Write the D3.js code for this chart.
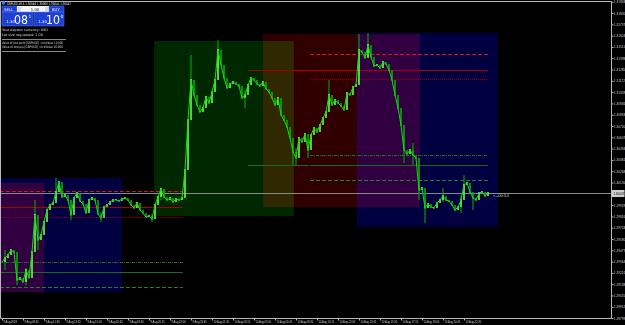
<!DOCTYPE html>
<html><head><meta charset="utf-8">
<script src="https://cdn.jsdelivr.net/npm/d3@7"></script>
<style>html,body{margin:0;padding:0;background:#000;overflow:hidden}svg{display:block}</style>
</head><body><svg id="c" width="625" height="325"></svg>
<script>
// ---------- DATA ----------
const symbol = "GBPUSD,M15";
const quoteLine = ["1.30046", "1.30060", "1.30041", "1.30047"];
const closes = [
1.2936,1.2940,1.2943,1.2948,1.2946,1.2918,1.2920,1.2916,1.2928,1.2920,
1.2946,1.2983,1.2958,1.2963,1.2976,1.2988,1.2993,1.2995,1.3006,1.3016,
1.3001,1.3003,1.2998,1.2983,1.3000,1.3005,1.2997,1.2994,1.2985,1.2998,
1.3000,1.2998,1.2984,1.2980,1.2991,1.2993,1.2996,1.2998,1.2998,1.2997,
1.2999,1.3000,1.2998,1.2993,1.2990,1.2995,1.2988,1.2985,1.2981,1.2982,
1.2979,1.2993,1.3001,1.3009,1.3001,1.2998,1.3000,1.2996,1.2999,1.2998,
1.3000,1.3028,1.3078,1.3118,1.3103,1.3093,1.3086,1.3090,1.3101,1.3095,
1.3106,1.3118,1.3148,1.3133,1.3120,1.3110,1.3114,1.3116,1.3114,1.3112,
1.3100,1.3103,1.3113,1.3120,1.3118,1.3114,1.3112,1.3116,1.3109,1.3106,
1.3100,1.3093,1.3100,1.3083,1.3078,1.3071,1.3060,1.3046,1.3040,1.3060,
1.3056,1.3064,1.3048,1.3063,1.3070,1.3066,1.3073,1.3080,1.3086,1.3103,
1.3093,1.3098,1.3095,1.3092,1.3088,1.3105,1.3103,1.3111,1.3113,1.3148,
1.3146,1.3140,1.3153,1.3141,1.3132,1.3133,1.3130,1.3136,1.3134,1.3128,
1.3118,1.3103,1.3090,1.3073,1.3048,1.3044,1.3048,1.3043,1.3040,1.3008,
1.3010,1.2990,1.2994,1.2991,1.2990,1.2995,1.2998,1.3002,1.2998,1.2997,
1.2993,1.2988,1.2991,1.2998,1.3013,1.3015,1.3006,1.3000,1.2998,1.3005,
1.3006,1.3002,1.3005
];
// bars with visible wicks: index, high, low
const wickIndex = [1,5,8,11,12,18,23,33,50,53,63,72,81,97,98,102,109,119,122,134,137,139,141,147,153,154,157];
const wickHigh  = [1.2948,1.2922,1.2930,1.2998,1.2965,1.3020,1.2998,1.2986,1.2984,1.3010,1.3143,1.3158,1.3108,1.3055,1.3050,1.3058,1.3118,1.3164,1.3165,1.3060,1.3055,1.3015,1.2998,1.3010,1.3003,1.3023,1.3004];
const wickLow   = [1.2928,1.2913,1.2913,1.2975,1.2948,1.3000,1.2978,1.2976,1.2976,1.2998,1.3100,1.3130,1.3090,1.3033,1.3033,1.3040,1.3095,1.3140,1.3145,1.3035,1.3033,1.2998,1.2975,1.2996,1.2985,1.3008,1.2988];
const currentPrice = 1.30047;
const countdown = "<--00:54";

// sessions (bar index start/end, price high/low, kind)
const sessionKind  = ["ny", "asia", "london", "ny", "asia"];
const sessionStart = [-12, -0.7, 50.7, 87, 118.3];
const sessionEnd   = [14, 40, 97.3, 139.3, 165.3];
const sessionHigh  = [1.3015, 1.3020, 1.3157, 1.3164, 1.3165];
const sessionLow   = [1.2906, 1.2906, 1.2982, 1.2991, 1.2971];

// level lines
const levelStart = [-0.7,-0.7,-0.7,-0.7,-0.7,-0.7, 82,82, 102.7,102.7,102.7,102.7,102.7,102.7];
const levelEnd   = [60.3,60.3,60.3,60.3,60.3,60.3, 102.3,102.3, 162,162,162,162,162,162];
const levelPrice = [1.30065,1.2991,1.29815,1.2936,1.2926,1.2911, 1.3128,1.30335, 1.3144,1.31285,1.3119,1.3043,1.3033,1.3018];
const levelKind  = ["hiDash","hiSolid","hiDot","loDot","loSolid","loDash", "hiSolid","loSolid", "hiDash","hiSolid","hiDot","loDot","loSolid","loDash"];

// axes
const priceTicks = [1.31963,1.31850,1.31737,1.31624,1.31511,1.31398,1.31285,1.31172,1.31059,1.30946,
1.30833,1.30720,1.30607,1.30494,1.30381,1.30268,1.30155,1.30042,1.29929,1.29816,1.29703,1.29590,
1.29477,1.29364,1.29251,1.29138,1.29025,1.28912,1.28799];
const timeLabels = ["9 Aug 2018","9 Aug 09:45","9 Aug 11:30","9 Aug 13:15","9 Aug 15:00","9 Aug 16:45",
"9 Aug 18:30","9 Aug 20:15","9 Aug 22:00","9 Aug 23:45","10 Aug 01:30","10 Aug 03:15","10 Aug 05:00",
"10 Aug 06:45","10 Aug 08:30","10 Aug 10:15","10 Aug 12:00","10 Aug 13:45","10 Aug 15:30","10 Aug 17:15",
"10 Aug 19:00","10 Aug 20:45","10 Aug 22:30"];
const timeLabelStep = 7;

const infoLines = ["Your deposit currency: USD", "Lot size requested: 1.00"];
const valueLines = ["Value of one point [GBPUSD] : tickValue 10.000", "Value of one pip   [GBPUSD] : tickValue 10.000"];
const panel = {sell:"SELL", buy:"BUY", lots:"1.00", bidBig:"08", bidSup:"1", askBig:"10", askSup:"0", prefix:"1.30"};

// ---------- STYLES ----------
const sessionColor = {ny:"#300000", asia:"#000040", london:"#002800"};
const levelStyle = {
  hiDash:{c:"#d01818", d:"4,2"}, hiSolid:{c:"#a80000", d:null}, hiDot:{c:"#a00000", d:"1,1"},
  loDot:{c:"#1f7a1f", d:"3,1,1,1"}, loSolid:{c:"#1a6a1a", d:null}, loDash:{c:"#2a802a", d:"4,2"}
};
const W = 625, H = 325, RX = 611, TY = 1, BY = 318;
const f = "DejaVu Sans, sans-serif";
const fa = "Liberation Sans, Arial, sans-serif";

const svg = d3.select("#c");
svg.append("rect").attr("width", W).attr("height", H).attr("fill", "#000");

const x = d3.scaleLinear().domain([0, 203]).range([2, RX]);
const y = d3.scaleLinear().domain([1.2880, 1.3197]).range([BY, TY]);

const plot = svg.append("g");
plot.append("defs").append("clipPath").attr("id","clip").append("rect")
  .attr("x",0).attr("y",TY).attr("width",RX).attr("height",BY-TY);
const inner = plot.append("g").attr("clip-path","url(#clip)");

// sessions
inner.append("g").selectAll("rect").data(sessionKind).join("rect")
  .attr("x", (d,i)=>x(sessionStart[i]))
  .attr("width", (d,i)=>x(sessionEnd[i])-x(sessionStart[i]))
  .attr("y", (d,i)=>y(sessionHigh[i]))
  .attr("height", (d,i)=>y(sessionLow[i])-y(sessionHigh[i]))
  .attr("fill", d=>sessionColor[d])
  .style("mix-blend-mode","screen");

// levels
inner.append("g").selectAll("line").data(levelKind).join("line")
  .attr("x1",(d,i)=>x(levelStart[i])).attr("x2",(d,i)=>x(levelEnd[i]))
  .attr("y1",(d,i)=>Math.round(y(levelPrice[i]))+0.5).attr("y2",(d,i)=>Math.round(y(levelPrice[i]))+0.5)
  .attr("stroke",d=>levelStyle[d].c).attr("stroke-width",1)
  .attr("stroke-dasharray",d=>levelStyle[d].d);

// current price line
const cy = Math.round(y(currentPrice))+0.5;
inner.append("line").attr("x1",0).attr("x2",RX).attr("y1",cy).attr("y2",cy)
  .attr("stroke","#8a8a8a").attr("stroke-width",1);

// wicks
inner.append("g").selectAll("line").data(wickIndex).join("line")
  .attr("x1",d=>x(d)).attr("x2",d=>x(d))
  .attr("y1",(d,i)=>y(wickHigh[i])).attr("y2",(d,i)=>y(wickLow[i]))
  .attr("stroke","#00a800").attr("stroke-width",1.1);

// price bars
const bars = inner.append("g");
closes.forEach((c,i)=>{
  if(i===0) return;
  const p = closes[i-1];
  bars.append("line").attr("x1",x(i)).attr("x2",x(i))
    .attr("y1",y(p)).attr("y2",y(c)+(c>=p?-1:1))
    .attr("stroke", c>=p ? "#66ff44" : "#00b000").attr("stroke-width",1.6);
});
inner.append("path").datum(closes)
  .attr("d", d3.line().x((d,i)=>x(i)).y(d=>y(d)))
  .attr("fill","none").attr("stroke","#18d818").attr("stroke-width",1);

// countdown
svg.append("text").attr("x", x(closes.length-1)+5).attr("y", cy+3)
  .attr("font-family",fa).attr("font-size",4.2).attr("fill","#c8c8c8")
  .text(countdown);

// frame
svg.append("path").attr("d",`M0.5,${TY+0.5}H${RX+0.5}V${BY+0.5}H0.5Z`)
  .attr("fill","none").attr("stroke","#b8b8b8").attr("stroke-width",1);

// right axis
const ra = svg.append("g").attr("transform",`translate(${RX+0.5},0)`);
const yAxis = d3.axisRight(y).tickValues(priceTicks.filter(t=>Math.abs(y(t)-y(currentPrice))>5))
  .tickSize(2).tickPadding(0.5).tickFormat(d=>d.toFixed(5));
ra.call(yAxis);
ra.select(".domain").remove();
ra.selectAll(".tick line").attr("stroke","#b8b8b8");
ra.selectAll(".tick text").attr("fill","#c8ccd4").attr("font-size",3.1).attr("font-family",fa);
// current price label
svg.append("rect").attr("x",RX+1).attr("y",cy-3.5).attr("width",W-RX-1.5).attr("height",7).attr("fill","#d0d0d0");
svg.append("text").attr("x",RX+2.2).attr("y",cy+1.1).attr("font-size",3.1)
  .attr("font-family",fa).attr("fill","#000").text(currentPrice.toFixed(5));

// bottom axis
const ba = svg.append("g").attr("transform",`translate(0,${BY+0.5})`);
const xAxis = d3.axisBottom(x).tickValues(timeLabels.map((d,i)=>i*timeLabelStep))
  .tickSize(2).tickFormat((d,i)=>timeLabels[i]);
ba.call(xAxis);
ba.select(".domain").remove();
ba.selectAll(".tick line").attr("stroke","#b8b8b8");
ba.selectAll(".tick text").attr("fill","#c8ccd4").attr("font-size",2.7)
  .attr("font-family",fa).attr("text-anchor","start")
  .attr("dx",1).attr("y",2.2).attr("dy","0.75em");

// ---------- top-left panel ----------
const pn = svg.append("g");
pn.append("rect").attr("x",2).attr("y",1.5).attr("width",3).attr("height",3).attr("fill","#3c78ff");
pn.append("text").attr("x",7).attr("y",4.6).attr("font-size",3.6).attr("font-family",f).attr("fill","#e8e8e8")
  .attr("textLength",64).attr("lengthAdjust","spacingAndGlyphs")
  .text(symbol+"  "+quoteLine.join(" "));
const blue = "#1e40d2", blueB = "#5a78ff";
pn.append("rect").attr("x",2).attr("y",6).attr("width",15).attr("height",6).attr("fill",blue).attr("stroke",blueB).attr("stroke-width",0.5);
pn.append("text").attr("x",4).attr("y",10.5).attr("font-size",3.8).attr("font-family",f).attr("fill","#fff").text(panel.sell);
pn.append("rect").attr("x",17).attr("y",6).attr("width",32).attr("height",6).attr("fill","#f4f4f4");
pn.append("rect").attr("x",18).attr("y",7).attr("width",3).attr("height",4).attr("fill","#d8d8d8");
pn.append("rect").attr("x",45).attr("y",7).attr("width",3).attr("height",4).attr("fill","#d8d8d8");
pn.append("text").attr("x",35).attr("y",10.6).attr("text-anchor","middle").attr("font-size",3.8).attr("font-family",f).attr("fill","#111").text(panel.lots);
pn.append("rect").attr("x",49).attr("y",6).attr("width",15).attr("height",6).attr("fill",blue).attr("stroke",blueB).attr("stroke-width",0.5);
pn.append("text").attr("x",52).attr("y",10.5).attr("font-size",3.8).attr("font-family",f).attr("fill","#fff").text(panel.buy);
[[2,panel.bidBig,panel.bidSup],[34,panel.askBig,panel.askSup]].forEach(([bx,big,sup])=>{
  pn.append("rect").attr("x",bx).attr("y",12).attr("width",bx===2?31:30).attr("height",14).attr("fill",blue).attr("stroke",blueB).attr("stroke-width",0.5);
  pn.append("text").attr("x",bx+4.5).attr("y",23).attr("font-size",3.8).attr("font-family",f).attr("fill","#fff").text(panel.prefix);
  pn.append("text").attr("x",bx+12).attr("y",23.5).attr("font-size",12).attr("font-family",f).attr("fill","#fff")
    .attr("textLength",14).attr("lengthAdjust","spacingAndGlyphs").text(big);
  pn.append("text").attr("x",bx+26.5).attr("y",17.5).attr("font-size",4.5).attr("font-family",f).attr("fill","#fff").text(sup);
});
infoLines.forEach((t,i)=>pn.append("text").attr("x",2).attr("y",31.3+i*4.3).attr("font-size",3.4).attr("font-family",f)
  .attr("fill","#d8d8d8").text(t));
pn.append("line").attr("x1",2).attr("x2",66).attr("y1",39.5).attr("y2",39.5).attr("stroke","#8a8a8a").attr("stroke-width",1);
valueLines.forEach((t,i)=>pn.append("text").attr("x",2).attr("y",44+i*4).attr("font-size",3.4).attr("font-family",f)
  .attr("fill","#d8d8d8").attr("textLength",61).attr("lengthAdjust","spacingAndGlyphs").text(t));
pn.append("line").attr("x1",2).attr("x2",66).attr("y1",51.5).attr("y2",51.5).attr("stroke","#8a8a8a").attr("stroke-width",1);
</script>
</body></html>
